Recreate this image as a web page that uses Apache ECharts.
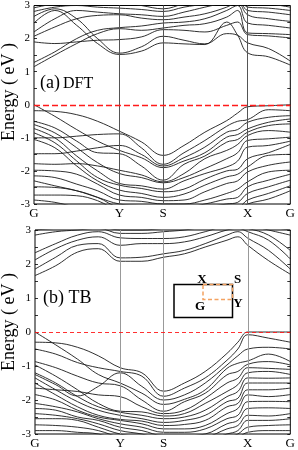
<!DOCTYPE html>
<html><head><meta charset="utf-8">
<script src="https://cdn.jsdelivr.net/npm/echarts@6/dist/echarts.min.js"></script>
<style>html,body{margin:0;padding:0;background:#fff}#c{width:298px;height:450px}</style>
</head><body><div id="c"></div>
<script>
// k-path sample positions (G .. Y .. S .. X .. G)
const kPath = [0, 21, 43, 64, 86, 108, 130, 151, 172, 194, 205, 215, 236, 258];
const kTicks = [0, 86, 130, 215, 258];
const kLabels = ['G', 'Y', 'S', 'X', 'G'];
const kLines = [86, 130, 215];
const yTicks = [-3, -2, -1, 0, 1, 2, 3];

// (a) DFT conduction bands
const dftCond = [
  [2.47, 2.85, 2.4, 1.85, 1.52, 1.62, 1.87, 1.84, 1.82, 2.5, 2.1, 1.57, 1.45, 1.2],
  [2.67, 2.9, 2.6, 2.0, 1.56, 1.75, 2.07, 1.95, 1.84, 2.15, 2.1, 1.87, 1.7, 1.32],
  [1.9, 1.85, 1.9, 1.95, 1.97, 2.05, 2.27, 2.25, 2.2, 2.4, 2.5, 2.12, 2.08, 2.02],
  [1.15, 1.5, 1.85, 2.15, 2.3, 2.25, 2.32, 2.4, 2.45, 2.65, 2.85, 2.17, 2.15, 2.12],
  [1.28, 1.6, 2.0, 2.25, 2.33, 2.38, 2.47, 2.5, 2.6, 2.85, 3.0, 2.47, 2.4, 2.32],
  [2.07, 2.35, 2.6, 2.7, 2.72, 2.62, 2.57, 2.65, 2.75, 2.95, 3.1, 2.72, 2.6, 2.52],
  [2.2, 2.6, 2.85, 2.8, 2.75, 2.72, 2.67, 2.8, 2.95, 3.1, 3.2, 2.85, 2.8, 2.72],
  [2.82, 2.95, 3.0, 2.95, 2.92, 2.88, 2.82, 2.95, 3.05, 3.2, 3.3, 2.95, 2.92, 2.85],
  [2.93, 3.05, 3.1, 3.1, 3.1, 3.0, 2.9, 3.05, 3.15, 3.3, 3.4, 3.1, 3.05, 2.95]
];
// (a) DFT valence bands
const dftVal = [
  [-0.18, -0.2, -0.3, -0.5, -0.8, -1.12, -1.53, -1.23, -0.83, -0.48, -0.25, -0.06, -0.03, 0],
  [-1.0, -1.0, -0.95, -0.9, -0.88, -1.3, -1.8, -1.45, -1.08, -0.65, -0.5, -0.45, -0.15, -0.18],
  [-1.48, -1.48, -1.4, -1.3, -1.23, -1.5, -1.85, -1.6, -1.28, -0.83, -0.75, -0.53, -0.38, -0.33],
  [0, -0.35, -0.75, -1.1, -1.38, -1.6, -1.9, -1.7, -1.45, -0.98, -0.9, -0.73, -0.53, -0.43],
  [-0.5, -0.7, -1.1, -1.45, -1.48, -1.85, -2.28, -1.8, -1.55, -1.13, -1.05, -0.83, -0.63, -0.58],
  [-1.78, -1.8, -1.78, -1.85, -1.98, -2.12, -2.33, -2.08, -1.63, -1.38, -1.2, -0.93, -0.78, -0.83],
  [-0.6, -0.85, -1.3, -1.75, -2.08, -2.2, -2.36, -2.2, -1.93, -1.63, -1.45, -1.08, -1.03, -0.98],
  [-0.72, -1.0, -1.55, -2.0, -2.38, -2.45, -2.55, -2.3, -2.08, -1.88, -1.7, -1.28, -1.23, -1.1],
  [-0.85, -1.15, -1.7, -2.2, -2.43, -2.53, -2.63, -2.55, -2.25, -2.0, -1.95, -1.63, -1.45, -1.2],
  [-1.05, -1.3, -1.85, -2.3, -2.58, -2.68, -2.8, -2.7, -2.43, -2.18, -2.1, -1.88, -1.53, -1.5],
  [-1.98, -2.0, -2.1, -2.4, -2.73, -2.8, -2.9, -2.88, -2.63, -2.38, -2.3, -2.03, -1.83, -1.73],
  [-2.15, -2.2, -2.4, -2.6, -2.88, -2.92, -3.0, -3.0, -2.88, -2.68, -2.55, -2.33, -2.03, -1.98],
  [-2.3, -2.45, -2.6, -2.8, -3.0, -3.05, -3.1, -3.1, -3.0, -2.85, -2.8, -2.48, -2.28, -2.1],
  [-2.48, -2.5, -2.6, -2.8, -3.1, -3.15, -3.2, -3.2, -3.1, -3.0, -2.95, -2.68, -2.48, -2.28],
  [-2.73, -2.73, -2.75, -2.9, -3.2, -3.25, -3.3, -3.3, -3.2, -3.1, -3.1, -2.88, -2.68, -2.45],
  [-2.88, -2.95, -3.1, -3.2, -3.3, -3.35, -3.4, -3.4, -3.3, -3.2, -3.2, -3.0, -2.85, -2.6]
];
// (b) TB conduction bands
const tbCond = [
  [1.66, 1.95, 2.35, 2.45, 2.08, 2.08, 2.2, 2.3, 2.5, 2.7, 2.8, 2.55, 2.1, 1.7],
  [1.85, 2.2, 2.55, 2.6, 2.18, 2.2, 2.3, 2.4, 2.6, 2.85, 2.95, 2.76, 2.4, 1.85],
  [2.12, 2.45, 2.7, 2.8, 2.55, 2.6, 2.6, 2.65, 2.8, 3.0, 3.05, 2.95, 2.7, 2.15],
  [2.33, 2.6, 2.85, 2.95, 2.77, 2.75, 2.75, 2.8, 2.95, 3.1, 3.1, 3.05, 2.85, 2.4],
  [2.85, 2.95, 3.0, 3.05, 2.9, 2.9, 2.95, 3.0, 3.1, 3.2, 3.2, 3.15, 3.0, 2.85],
  [3.0, 3.05, 3.1, 3.1, 3.0, 3.0, 3.05, 3.1, 3.2, 3.3, 3.3, 3.2, 3.1, 3.0]
];
// (b) TB valence bands
const tbVal = [
  [-0.3, -0.32, -0.45, -0.7, -1.05, -1.2, -1.74, -1.5, -1.16, -0.63, -0.3, 0, 0, 0],
  [-0.5, -0.65, -0.9, -1.05, -1.16, -1.3, -1.89, -1.65, -1.35, -0.83, -0.5, -0.08, -0.18, -0.3],
  [-1.25, -1.55, -1.88, -1.6, -1.2, -1.6, -2.0, -1.85, -1.5, -0.97, -0.7, -0.5, -0.45, -0.5],
  [0, -0.38, -0.8, -1.25, -1.5, -1.8, -2.13, -1.98, -1.7, -1.07, -0.92, -0.85, -0.65, -0.87],
  [-0.87, -1.05, -1.3, -1.5, -1.58, -2.0, -2.33, -2.05, -1.8, -1.26, -1.16, -0.95, -0.87, -0.97],
  [-1.65, -1.7, -1.75, -1.85, -1.9, -2.2, -2.4, -2.3, -1.95, -1.5, -1.36, -1.05, -1.07, -1.1],
  [-0.97, -1.3, -1.7, -2.1, -2.33, -2.35, -2.47, -2.4, -2.1, -1.75, -1.55, -1.2, -1.16, -1.25],
  [-1.2, -1.5, -1.9, -2.2, -2.36, -2.45, -2.55, -2.5, -2.3, -1.9, -1.75, -1.35, -1.36, -1.35],
  [-1.35, -1.7, -2.05, -2.3, -2.45, -2.55, -2.66, -2.6, -2.45, -2.05, -1.95, -1.5, -1.5, -1.5],
  [-1.5, -1.85, -2.2, -2.45, -2.57, -2.62, -2.75, -2.72, -2.6, -2.2, -2.1, -1.7, -1.7, -1.65],
  [-1.84, -2.0, -2.3, -2.5, -2.6, -2.7, -2.85, -2.85, -2.75, -2.4, -2.25, -1.85, -1.9, -1.84],
  [-2.1, -2.2, -2.35, -2.55, -2.7, -2.8, -2.95, -2.95, -2.85, -2.55, -2.45, -2.05, -2.04, -2.05],
  [-2.25, -2.3, -2.5, -2.6, -2.8, -2.9, -3.05, -3.05, -3.0, -2.7, -2.6, -2.25, -2.23, -2.25],
  [-2.4, -2.45, -2.55, -2.7, -2.9, -3.0, -3.15, -3.15, -3.1, -2.85, -2.75, -2.45, -2.47, -2.4],
  [-2.55, -2.55, -2.6, -2.8, -3.0, -3.1, -3.25, -3.25, -3.2, -3.0, -2.9, -2.6, -2.6, -2.55],
  [-2.73, -2.75, -2.8, -2.9, -3.1, -3.2, -3.35, -3.35, -3.3, -3.1, -3.0, -2.8, -2.75, -2.73],
  [-2.9, -2.9, -2.95, -3.0, -3.2, -3.3, -3.45, -3.45, -3.4, -3.2, -3.1, -2.95, -2.9, -2.9]
];

const serif = '"Liberation Serif", "DejaVu Serif", serif';
const chart = echarts.init(document.getElementById('c'), null, {renderer: 'canvas'});

function bandSeries(bands, gi) {
  return bands.map(b => ({
    type: 'line', xAxisIndex: gi, yAxisIndex: gi * 2, showSymbol: false, symbol: 'none',
    smooth: 0.4, clip: true, silent: true, z: 3,
    lineStyle: {color: '#1a1a1a', width: 0.9},
    data: b.map((e, i) => [kPath[i], e])
  }));
}
function vLineSeries(gi, color) {
  return {
    type: 'line', xAxisIndex: gi, yAxisIndex: gi * 2, data: [], silent: true, z: 2,
    markLine: {
      symbol: 'none', silent: true, animation: false, label: {show: false},
      lineStyle: {color: color, width: 1, type: 'solid'},
      data: kLines.map(k => ({xAxis: k}))
    }
  };
}
function zeroSeries(gi, dash, w) {
  return {
    type: 'line', xAxisIndex: gi, yAxisIndex: gi * 2, data: [], silent: true, z: 2,
    markLine: {
      symbol: 'none', silent: true, animation: false, label: {show: false},
      lineStyle: {color: '#ff1a1a', width: w, type: dash, opacity: 1},
      emphasis: {disabled: true},
      data: [{yAxis: 0}]
    }
  };
}
function xAxisFor(gi) {
  return {
    type: 'value', gridIndex: gi, min: 0, max: 258,
    axisLine: {show: false}, axisTick: {show: false}, splitLine: {show: false},
    axisLabel: {
      customValues: kTicks, margin: 3, color: '#000', fontFamily: serif, fontSize: 13,
      formatter: v => kLabels[kTicks.indexOf(v)] || ''
    }
  };
}
function yAxesFor(gi) {
  const base = {
    type: 'value', gridIndex: gi, min: -3, max: 3, interval: 1,
    axisLine: {show: false}, splitLine: {show: false},
    axisTick: {show: true, inside: true, length: 3, lineStyle: {color: '#000', width: 0.8}},
    minorTick: {show: true, splitNumber: 2, length: 3, lineStyle: {color: '#000', width: 0.8}}
  };
  return [
    Object.assign({}, base, {position: 'left',
      axisLabel: {margin: 4, color: '#000', fontFamily: serif, fontSize: 11,
        customValues: yTicks, formatter: v => String(v)}}),
    Object.assign({}, base, {position: 'right', axisLabel: {show: false}})
  ];
}

const option = {
  animation: false,
  backgroundColor: '#fff',
  grid: [
    {left: 34, right: 6, top: 4, height: 200, show: true, borderColor: '#000', borderWidth: 1},
    {left: 35, right: 6, top: 230, height: 207, show: true, borderColor: '#000', borderWidth: 1}
  ],
  xAxis: [xAxisFor(0), xAxisFor(1)],
  yAxis: yAxesFor(0).concat(yAxesFor(1)),
  series: [].concat(
    [vLineSeries(0, '#555'), zeroSeries(0, [6, 3], 1.3)],
    bandSeries(dftCond, 0), bandSeries(dftVal, 0),
    [vLineSeries(1, '#999'), zeroSeries(1, [4, 3], 0.9)],
    bandSeries(tbCond, 1), bandSeries(tbVal, 1)
  ),
  graphic: [
    {type: 'text', x: 9, y: 92, rotation: Math.PI / 2,
      style: {text: 'Energy ( eV )', font: '18px ' + serif, fill: '#000', textAlign: 'center', textVerticalAlign: 'middle'}},
    {type: 'text', x: 9, y: 322, rotation: Math.PI / 2,
      style: {text: 'Energy ( eV )', font: '18px ' + serif, fill: '#000', textAlign: 'center', textVerticalAlign: 'middle'}},
    {type: 'text', x: 40, y: 83,
      style: {text: '(a)', font: '18px ' + serif, fill: '#000', textAlign: 'left', textVerticalAlign: 'middle'}},
    {type: 'text', x: 63, y: 84,
      style: {text: 'DFT', font: '16px ' + serif, fill: '#000', textAlign: 'left', textVerticalAlign: 'middle'}},
    {type: 'text', x: 43, y: 298,
      style: {text: '(b) TB', font: '18px ' + serif, fill: '#000', textAlign: 'left', textVerticalAlign: 'middle'}},
    // Brillouin-zone inset
    {type: 'rect', shape: {x: 174, y: 284.5, width: 58.5, height: 33}, z: 10,
      style: {fill: 'none', stroke: '#000', lineWidth: 1.5}},
    {type: 'polyline', shape: {points: [[203, 284.5], [232.5, 284.5], [232.5, 299.5], [203, 299.5], [203, 284.5]]}, z: 11,
      style: {fill: 'none', stroke: '#f4a261', lineWidth: 1.5, lineDash: [4, 2.5]}},
    {type: 'text', x: 202, y: 280, z: 12,
      style: {text: 'X', font: 'bold 13px ' + serif, fill: '#000', textAlign: 'center', textVerticalAlign: 'middle'}},
    {type: 'text', x: 237.5, y: 280, z: 12,
      style: {text: 'S', font: 'bold 13px ' + serif, fill: '#000', textAlign: 'center', textVerticalAlign: 'middle'}},
    {type: 'text', x: 200, y: 306.5, z: 12,
      style: {text: 'G', font: 'bold 13px ' + serif, fill: '#000', textAlign: 'center', textVerticalAlign: 'middle'}},
    {type: 'text', x: 238, y: 304, z: 12,
      style: {text: 'Y', font: 'bold 13px ' + serif, fill: '#000', textAlign: 'center', textVerticalAlign: 'middle'}}
  ]
};
chart.setOption(option);
</script>
</body></html>
